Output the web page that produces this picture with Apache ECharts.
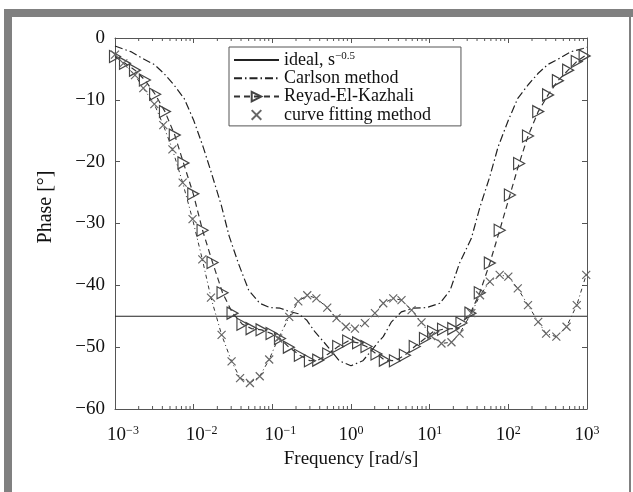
<!DOCTYPE html>
<html><head><meta charset="utf-8">
<script src="https://cdn.jsdelivr.net/npm/echarts@6/dist/echarts.min.js"></script>
<style>html,body{margin:0;padding:0;background:#fff}#c{width:633px;height:492px}</style>
</head><body><div id="c"></div>
<script>
// ---- data (frequency given as log10 exponent, phase in degrees) ----
const xTickExponents = [-3, -2, -1, 0, 1, 2, 3];
const yTicks = [0, -10, -20, -30, -40, -50, -60];

const idealExp = [-3, 3];
const idealPhase = [-45, -45];

const carlsonExp = [-3.0,-2.8,-2.65,-2.5,-2.38,-2.25,-2.12,-2.0,-1.88,-1.77,-1.65,-1.55,-1.43,-1.3,-1.16,-1.03,-0.9,-0.79,-0.67,-0.565,-0.46,-0.35,-0.245,-0.15,0.0,0.15,0.25,0.35,0.41,0.515,0.64,0.79,0.96,1.13,1.26,1.38,1.53,1.64,1.765,1.87,2.0,2.12,2.25,2.38,2.505,2.65,2.8,2.95,3.0];
const carlsonPhase = [-1.3,-2.2,-3.3,-4.3,-5.7,-7.6,-9.8,-13.3,-17.6,-22,-27,-32,-36.5,-40.8,-42.9,-43.6,-43.7,-44.2,-44.6,-45.6,-47.5,-49.1,-50.7,-52.2,-53,-52.2,-50.7,-49.1,-48.3,-45.9,-44.3,-43.7,-43.6,-42.9,-40.8,-36.4,-32.4,-27.3,-22.4,-17.6,-13.3,-9.75,-7.6,-5.7,-4.26,-3.3,-2.2,-1.7,-1.5];

const reyadExp = [-3.0,-2.873,-2.746,-2.62,-2.49,-2.365,-2.24,-2.13,-2.005,-1.887,-1.76,-1.633,-1.506,-1.38,-1.264,-1.137,-1.01,-0.903,-0.79,-0.65,-0.522,-0.417,-0.29,-0.163,-0.036,0.09,0.197,0.324,0.43,0.558,0.685,0.81,0.94,1.043,1.17,1.3,1.404,1.518,1.637,1.765,1.89,2.02,2.137,2.25,2.38,2.505,2.63,2.76,2.87,2.97];
const reyadPhase = [-3.0,-4.1,-5.2,-6.8,-9.1,-11.9,-15.7,-20.2,-25.2,-31.1,-36.3,-41.2,-44.5,-46.3,-47.0,-47.2,-47.8,-48.6,-50.0,-51.3,-52.2,-52.1,-51.1,-49.9,-49.0,-49.3,-49.9,-51.1,-52.1,-52.2,-51.3,-49.9,-48.6,-47.5,-47.1,-47.0,-46.1,-44.5,-41.2,-36.4,-31.1,-25.4,-20.3,-15.85,-11.9,-9.2,-6.9,-5.2,-3.8,-2.9];

const fitExp = [-3.0,-2.894,-2.746,-2.64,-2.5,-2.386,-2.27,-2.14,-2.014,-1.89,-1.78,-1.645,-1.518,-1.41,-1.285,-1.16,-1.04,-0.925,-0.785,-0.67,-0.556,-0.44,-0.302,-0.184,-0.065,0.05,0.177,0.304,0.41,0.537,0.642,0.77,0.896,1.02,1.15,1.277,1.38,1.53,1.64,1.765,1.89,2.0,2.12,2.25,2.38,2.48,2.61,2.74,2.87,2.99];
const fitPhase = [-2.7,-4.1,-6.0,-8.1,-10.7,-14.1,-18.0,-23.4,-29.3,-35.8,-42.0,-48.0,-52.3,-55.0,-55.8,-54.7,-52.0,-48.6,-45.1,-42.6,-41.6,-42.1,-43.6,-45.3,-46.7,-47.0,-46.1,-44.5,-42.9,-42.1,-42.4,-44.0,-46.0,-48.2,-49.4,-49.2,-47.8,-44.5,-41.6,-39.4,-38.3,-38.6,-40.5,-43.2,-45.9,-47.8,-48.3,-46.7,-43.2,-38.3];

const seriesNames = ['ideal, s\u22120.5', 'Carlson method', 'Reyad-El-Kazhali', 'curve fitting method'];
const xName = 'Frequency [rad/s]';
const yName = 'Phase [\u00b0]';

// ---- build ----
const FONT = 'Liberation Serif';
const AX = '#555';
const toPairs = (ex, ph) => ex.map((e, i) => [Math.pow(10, e), ph[i]]);
const minorTicks = [];
for (let d = xTickExponents[0]; d < xTickExponents[xTickExponents.length - 1]; d++) {
  for (let k = 2; k <= 9; k++) minorTicks.push([k * Math.pow(10, d), yTicks[yTicks.length - 1]]);
}
const yMin = Math.min(...yTicks), yMax = Math.max(...yTicks);
const xMin = Math.pow(10, xTickExponents[0]), xMax = Math.pow(10, xTickExponents[xTickExponents.length - 1]);

const chart = echarts.init(document.getElementById('c'), null, {renderer: 'canvas'});
const axisCommon = {
  axisLine: {show: true, onZero: false, lineStyle: {color: AX, width: 1}},
  axisTick: {show: true, inside: true, length: 5, lineStyle: {color: AX}},
  splitLine: {show: false}
};
const option = {
  animation: false,
  backgroundColor: '#fff',
  textStyle: {fontFamily: FONT},
  grid: {left: 115, right: 46, top: 38, bottom: 83, containLabel: false, outerBoundsMode: 'none'},
  xAxis: [
    Object.assign({
      type: 'log', logBase: 10, min: xMin, max: xMax, splitNumber: 6, position: 'bottom',
      name: xName, nameLocation: 'middle', nameGap: 34,
      nameTextStyle: {fontFamily: FONT, fontSize: 19, color: '#111'},
      axisLabel: {
        margin: 16,
        formatter: v => {
          const e = Math.round(Math.log10(v));
          const s = e < 0 ? '\u2212' + (-e) : String(e);
          return (e < 0 ? '{sp| }' : '') + '{b|10}{s|' + s + '}';
        },
        rich: {
          b: {fontFamily: FONT, fontSize: 19, lineHeight: 20, color: '#111', verticalAlign: 'bottom'},
          s: {fontFamily: FONT, fontSize: 12, lineHeight: 12, color: '#111', verticalAlign: 'top'},
          sp: {fontSize: 12, width: 16}
        }
      }
    }, axisCommon),
    Object.assign({
      type: 'log', logBase: 10, min: xMin, max: xMax, splitNumber: 6, position: 'top',
      axisLabel: {show: false}
    }, axisCommon)
  ],
  yAxis: [
    Object.assign({
      type: 'value', min: yMin, max: yMax, interval: 10, position: 'left',
      name: yName, nameLocation: 'middle', nameGap: 59, nameRotate: 90,
      nameTextStyle: {fontFamily: FONT, fontSize: 20, color: '#111', padding: [0, 0, 0, 33]},
      axisLabel: {margin: 10, fontFamily: FONT, fontSize: 19, color: '#111',
        formatter: v => v < 0 ? '\u2212' + Math.abs(v) : String(v)}
    }, axisCommon),
    Object.assign({
      type: 'value', min: yMin, max: yMax, interval: 10, position: 'right',
      axisLabel: {show: false}
    }, axisCommon)
  ],
  legend: {
    left: 229, top: 47, orient: 'vertical',
    padding: [4, 30, 2, 4], itemGap: 0.3, itemWidth: 45, itemHeight: 12, itemTextGap: 9,
    borderColor: '#555', borderWidth: 1, backgroundColor: '#fff',
    textStyle: {fontFamily: FONT, fontSize: 18, color: '#111', lineHeight: 18,
      rich: {
        t: {fontFamily: FONT, fontSize: 18, lineHeight: 18, color: '#111', verticalAlign: 'bottom'},
        sup: {fontFamily: FONT, fontSize: 11, lineHeight: 11, color: '#111', verticalAlign: 'top'}
      }},
    formatter: n => n === seriesNames[0] ? '{t|ideal, s}{sup|\u22120.5}' : n,
    data: [
      {name: seriesNames[0], itemStyle: {opacity: 0}},
      {name: seriesNames[1], itemStyle: {opacity: 0}},
      {name: seriesNames[2]},
      {name: seriesNames[3]}
    ]
  },
  graphic: [
    {type: 'rect', silent: true, shape: {x: 4, y: 9, width: 629, height: 8}, style: {fill: '#808080'}},
    {type: 'rect', silent: true, shape: {x: 4, y: 9, width: 8, height: 483}, style: {fill: '#808080'}},
    {type: 'rect', silent: true, shape: {x: 629, y: 9, width: 2, height: 483}, style: {fill: '#808080'}}
  ],
  series: [
    {name: seriesNames[0], type: 'line', data: toPairs(idealExp, idealPhase), symbol: 'none',
      lineStyle: {color: '#222', width: 1.2}, itemStyle: {color: '#222'}, z: 2},
    {name: seriesNames[1], type: 'line', data: toPairs(carlsonExp, carlsonPhase), symbol: 'none',
      lineStyle: {color: '#222', width: 1.2, type: [8, 3, 1.5, 3]}, itemStyle: {color: '#222'}, z: 3},
    {name: seriesNames[2], type: 'line', data: toPairs(reyadExp, reyadPhase),
      symbol: 'path://M0,0L10,5L0,10Z', symbolSize: [11, 12],
      lineStyle: {color: '#333', width: 1.2, type: [6, 4]},
      itemStyle: {color: 'rgba(255,255,255,0)', borderColor: '#444', borderWidth: 1.2}, z: 4},
    {type: 'line', data: toPairs(fitExp, fitPhase), symbol: 'none', silent: true,
      lineStyle: {color: '#333', width: 1, type: [4, 3, 1, 3]}, z: 4},
    {name: seriesNames[3], type: 'line', data: toPairs(fitExp, fitPhase),
      symbol: 'path://M0,0L10,10M10,0L0,10', symbolSize: 8,
      lineStyle: {width: 0, opacity: 0},
      itemStyle: {color: 'none', borderColor: '#666', borderWidth: 1.2}, z: 5},
    {type: 'custom', silent: true, data: minorTicks, clip: false, z: 6,
      renderItem: (params, api) => {
        const v = api.value(0);
        const pb = api.coord([v, yMin]);
        const pt = api.coord([v, yMax]);
        return {type: 'group', children: [
          {type: 'line', shape: {x1: pb[0], y1: pb[1], x2: pb[0], y2: pb[1] - 3}, style: {stroke: AX, lineWidth: 1}},
          {type: 'line', shape: {x1: pt[0], y1: pt[1], x2: pt[0], y2: pt[1] + 3}, style: {stroke: AX, lineWidth: 1}}
        ]};
      }}
  ]
};
chart.setOption(option);
</script>
</body></html>
